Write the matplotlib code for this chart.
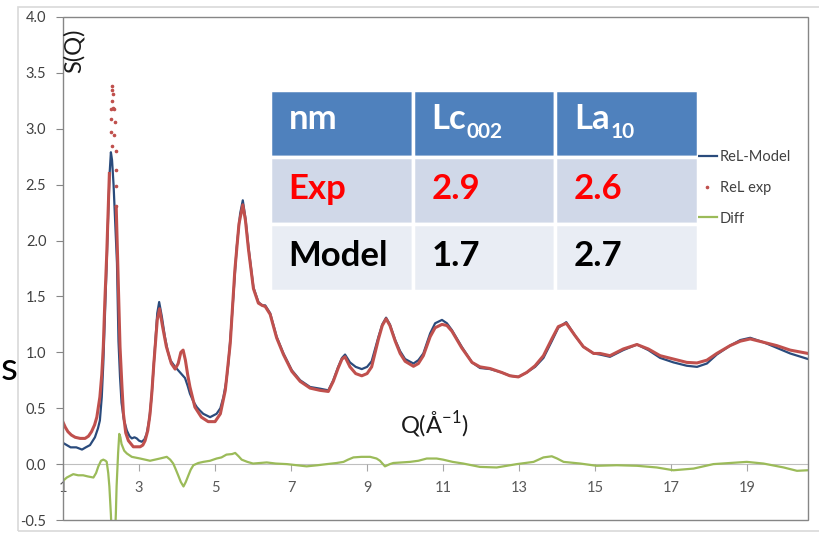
import numpy as np
import matplotlib
matplotlib.use("Agg")
import matplotlib.pyplot as plt
from matplotlib.patches import Rectangle

plt.rcParams['font.family'] = ['Lato', 'DejaVu Sans']
plt.rcParams['mathtext.fontset'] = 'custom'
plt.rcParams['mathtext.rm'] = 'Lato'

# --- data ---
model_q = [1.00, 1.10, 1.20, 1.35, 1.50, 1.60, 1.71, 1.84, 1.92, 1.97, 2.02, 2.06, 2.10, 2.15,
           2.20, 2.23, 2.26, 2.29, 2.33, 2.38, 2.42, 2.46, 2.50, 2.54, 2.60, 2.68, 2.75, 2.81,
           2.88, 2.94, 3.00, 3.07, 3.14, 3.20, 3.27, 3.33, 3.38, 3.42, 3.48, 3.53, 3.60, 3.68,
           3.75, 3.82, 3.95, 4.08, 4.21, 4.28, 4.34, 4.43, 4.52, 4.60, 4.69, 4.87, 5.04, 5.14,
           5.22, 5.30, 5.35, 5.42, 5.48, 5.57, 5.66, 5.73, 5.80, 5.88, 6.01, 6.14, 6.24, 6.32,
           6.45, 6.62, 6.80, 7.02, 7.24, 7.50, 7.76, 7.98, 8.11, 8.24, 8.34, 8.42, 8.55, 8.70,
           8.86, 9.00, 9.12, 9.30, 9.40, 9.50, 9.60, 9.74, 9.87, 10.00, 10.22, 10.35, 10.48,
           10.66, 10.79, 10.97, 11.10, 11.23, 11.49, 11.76, 11.97, 12.24, 12.54, 12.76, 12.98,
           13.20, 13.42, 13.64, 13.86, 14.03, 14.24, 14.47, 14.69, 14.96, 15.13, 15.39, 15.74,
           16.10, 16.40, 16.71, 17.06, 17.41, 17.68, 17.94, 18.20, 18.55, 18.82, 19.08, 19.43,
           19.78, 20.13, 20.60]
model_s = [0.19, 0.17, 0.15, 0.15, 0.13, 0.15, 0.17, 0.24, 0.32, 0.39, 0.60, 0.90, 1.30, 1.80,
           2.35, 2.62, 2.79, 2.72, 2.50, 2.10, 1.80, 1.10, 0.78, 0.55, 0.40, 0.30, 0.25, 0.23,
           0.24, 0.23, 0.21, 0.20, 0.22, 0.27, 0.40, 0.60, 0.85, 1.05, 1.35, 1.45, 1.32, 1.14,
           1.02, 0.93, 0.87, 0.82, 0.77, 0.70, 0.63, 0.56, 0.51, 0.48, 0.45, 0.42, 0.45, 0.50,
           0.60, 0.75, 0.90, 1.20, 1.49, 1.94, 2.24, 2.36, 2.20, 1.94, 1.58, 1.45, 1.42, 1.42,
           1.35, 1.14, 0.99, 0.84, 0.75, 0.69, 0.675, 0.66, 0.75, 0.87, 0.95, 0.98, 0.91, 0.87,
           0.85, 0.87, 0.92, 1.14, 1.25, 1.31, 1.25, 1.11, 1.01, 0.94, 0.90, 0.93, 0.99,
           1.17, 1.26, 1.29, 1.26, 1.20, 1.05, 0.91, 0.86, 0.85, 0.82, 0.79, 0.78,
           0.82, 0.87, 0.95, 1.10, 1.22, 1.27, 1.15, 1.05, 0.99, 0.98, 0.96, 1.02,
           1.07, 1.02, 0.95, 0.91, 0.88, 0.87, 0.90, 0.98, 1.06, 1.11, 1.13, 1.09,
           1.04, 0.99, 0.94]

exp_q = [1.00, 1.06, 1.13, 1.22, 1.32, 1.45, 1.58, 1.67, 1.75, 1.83, 1.89, 1.97, 2.02, 2.06,
         2.10, 2.15, 2.19, 2.22, np.nan, 2.40, 2.44, 2.50, 2.55, 2.59, 2.65, 2.72, 2.85, 3.03,
         3.10, 3.16, 3.23, 3.29, 3.34, 3.39, 3.44, 3.48, 3.54, 3.62, 3.72, 3.85, 3.95, 4.03,
         4.10, 4.16, 4.22, 4.28, 4.34, 4.47, 4.64, 4.82, 5.00, 5.14, 5.27, 5.40, 5.52, 5.63,
         5.73, 5.80, 5.88, 6.01, 6.14, 6.24, 6.32, 6.45, 6.62, 6.80, 7.02, 7.24, 7.50, 7.76,
         7.98, 8.11, 8.24, 8.34, 8.42, 8.55, 8.70, 8.86, 9.00, 9.12, 9.30, 9.40, 9.50, 9.60,
         9.74, 9.87, 10.00, 10.22, 10.35, 10.48, 10.66, 10.79, 10.97, 11.10, 11.23, 11.49,
         11.76, 11.97, 12.24, 12.54, 12.76, 12.98, 13.20, 13.42, 13.64, 13.86, 14.03, 14.24,
         14.47, 14.69, 14.96, 15.13, 15.39, 15.74, 16.10, 16.40, 16.71, 17.06, 17.41, 17.68,
         17.94, 18.20, 18.55, 18.82, 19.08, 19.43, 19.78, 20.13, 20.60]
exp_s = [0.375, 0.33, 0.29, 0.26, 0.24, 0.23, 0.23, 0.25, 0.29, 0.35, 0.42, 0.60, 0.80, 1.05,
         1.45, 1.87, 2.30, 2.60, np.nan, 2.30, 1.79, 1.05, 0.70, 0.45, 0.28, 0.21, 0.155, 0.155,
         0.17, 0.21, 0.30, 0.45, 0.65, 0.90, 1.12, 1.29, 1.39, 1.23, 1.05, 0.90, 0.85, 0.90,
         1.00, 1.02, 0.93, 0.80, 0.69, 0.51, 0.42, 0.38, 0.38, 0.45, 0.66, 1.08, 1.73, 2.15,
         2.32, 2.18, 1.92, 1.57, 1.44, 1.42, 1.41, 1.34, 1.13, 0.98, 0.83, 0.74, 0.68, 0.66,
         0.65, 0.74, 0.86, 0.94, 0.96, 0.87, 0.81, 0.79, 0.81, 0.87, 1.12, 1.24, 1.30, 1.24,
         1.10, 0.99, 0.92, 0.875, 0.90, 0.97, 1.14, 1.22, 1.25, 1.24, 1.19, 1.04,
         0.91, 0.87, 0.855, 0.82, 0.79, 0.78, 0.82, 0.88, 0.97, 1.12, 1.23, 1.26,
         1.15, 1.05, 0.99, 0.99, 0.97, 1.03, 1.07, 1.03, 0.97, 0.94, 0.91, 0.905,
         0.93, 0.99, 1.06, 1.10, 1.12, 1.09, 1.06, 1.02, 0.99]

# sparse exp points at the top of the first peak
peak_q = [2.25, 2.25, 2.26, 2.28, 2.30, 2.30, 2.31, 2.30, 2.32, 2.35, 2.35, 2.37, 2.39, 2.39, 2.39, 2.40]
peak_s = [2.97, 3.09, 3.18, 2.85, 3.25, 3.35, 3.31, 3.38, 3.19, 3.18, 2.94, 3.06, 2.80, 2.63, 2.49, 2.31]

diff_q = [1.00, 1.10, 1.27, 1.40, 1.53, 1.65, 1.80, 1.87, 1.93, 2.00, 2.06, 2.12, 2.15, 2.19,
          2.22, 2.26, 2.30, 2.35, 2.39, 2.41, 2.45, 2.48, 2.51, 2.54, 2.61, 2.68, 2.81, 3.03,
          3.16, 3.29, 3.42, 3.55, 3.73, 3.82, 3.90, 3.97, 4.03, 4.10, 4.17, 4.23, 4.30, 4.36,
          4.43, 4.56, 4.69, 4.87, 5.04, 5.17, 5.30, 5.45, 5.53, 5.62, 5.70, 5.85, 6.00, 6.36,
          6.60, 6.89, 7.15, 7.41, 7.70, 7.94, 8.20, 8.38, 8.50, 8.64, 8.85, 9.08, 9.25, 9.34,
          9.47, 9.60, 9.69, 10.13, 10.35, 10.57, 10.83, 11.00, 11.25, 11.53, 11.97, 12.41,
          12.94, 13.38, 13.64, 13.86, 14.00, 14.17, 14.61, 15.04, 15.57, 16.10, 16.62, 17.06,
          17.59, 18.11, 18.55, 18.99, 19.43, 19.96, 20.31, 20.60]
diff_s = [-0.15, -0.12, -0.09, -0.10, -0.10, -0.11, -0.12, -0.08, -0.02, 0.03, 0.04, 0.03, 0.02, -0.08,
          -0.20, -0.45, -0.80, -0.80, -0.45, -0.20, 0.10, 0.27, 0.24, 0.18, 0.12, 0.095, 0.065, 0.05,
          0.04, 0.03, 0.04, 0.05, 0.065, 0.04, 0.005, -0.05, -0.10, -0.16, -0.20, -0.16, -0.10, -0.05,
          -0.01, 0.01, 0.02, 0.03, 0.05, 0.06, 0.085, 0.09, 0.10, 0.07, 0.04, 0.02, 0.005, 0.015,
          0.005, 0.0, -0.01, -0.02, -0.01, 0.0, 0.01, 0.02, 0.04, 0.06, 0.065, 0.065, 0.05, 0.03,
          -0.02, 0.0, 0.01, 0.02, 0.03, 0.05, 0.05, 0.04, 0.02, 0.005, -0.025, -0.03,
          0.0, 0.02, 0.06, 0.07, 0.05, 0.02, 0.005, -0.015, -0.01, -0.015, -0.03, -0.055,
          -0.04, 0.0, 0.01, 0.02, 0.005, -0.03, -0.06, -0.055]

x_ticks = [1, 3, 5, 7, 9, 11, 13, 15, 17, 19]
y_ticks = [-0.5, 0.0, 0.5, 1.0, 1.5, 2.0, 2.5, 3.0, 3.5, 4.0]

# table contents: (main text, subscript)
table_header = [('nm', ''), ('Lc', '002'), ('La', '10')]
row_names = ['Exp', 'Model']
lc002 = [2.9, 1.7]
la10 = [2.6, 2.7]

W, H = 820, 533


def fx(px):
    return px / W


def fy(py):
    return 1 - py / H


fig = plt.figure(figsize=(W / 100, H / 100), dpi=100)

# outer chart border
fig.add_artist(Rectangle((fx(18), fy(531)), fx(830) - fx(18), (531 - 7) / H,
                         transform=fig.transFigure, fill=False, edgecolor='#D9D9D9', lw=1.2))

ax = fig.add_axes([fx(63), fy(520), (808 - 63) / W, (520 - 17) / H])

model_color = '#2A4B7C'
exp_color = '#C0504D'
diff_color = '#9BBB59'

ln_model, = ax.plot(model_q, model_s, color=model_color, lw=1.6, zorder=3)
ax.plot(exp_q, exp_s, color=exp_color, lw=2.2, zorder=4)
ln_dots, = ax.plot(peak_q, peak_s, ls='none', marker='o', ms=1.6, color=exp_color, zorder=4)
ln_diff, = ax.plot(diff_q, diff_s, color=diff_color, lw=1.6, zorder=5)

ax.set_xlim(1, 20.6)
ax.set_ylim(-0.5, 4.0)
ax.set_xticks(x_ticks)
ax.set_xticklabels([str(t) for t in x_ticks])
ax.set_yticks(y_ticks)
ax.set_yticklabels([f'{t:.1f}' for t in y_ticks])

for side in ['top', 'right', 'left']:
    ax.spines[side].set_visible(False)
ax.spines['bottom'].set_position(('data', 0))
ax.spines['bottom'].set_color('#BFBFBF')
ax.spines['bottom'].set_zorder(1)
ax.add_patch(Rectangle((0, 0), 1, 1, transform=ax.transAxes, fill=False,
                       edgecolor='#868686', lw=1.0, clip_on=False, zorder=6))

ax.tick_params(axis='x', direction='out', length=5, width=0.8, color='#A6A6A6',
               labelcolor='#595959', labelsize=10.5, pad=7)
ax.tick_params(axis='y', direction='out', length=5, width=0.8, color='#868686',
               labelcolor='#404040', labelsize=10.5, pad=7)

leg = ax.legend([ln_model, ln_dots, ln_diff], ['ReL-Model', 'ReL exp', 'Diff'],
                loc='upper left', bbox_to_anchor=(fx(698), fy(150)),
                bbox_transform=fig.transFigure, frameon=False, fontsize=10.5,
                handlelength=1.3, handletextpad=0.2, labelspacing=1.15,
                borderpad=0, borderaxespad=0, numpoints=1, markerscale=1.0)
for t in leg.get_texts():
    t.set_color('#404040')

# axis titles inside the plot
fig.text(fx(74), fy(51), 'S(Q)', rotation=90, fontsize=17, ha='center', va='center', color='#1A1A1A')
fig.text(fx(434), fy(425), r'Q(Å$^{\mathregular{-1}}$)', fontsize=17, ha='center', va='center',
         color='#1A1A1A')

# letter at the left edge of the slide
fig.text(fx(1), fy(369), 's', fontsize=28, ha='left', va='center', color='black')

# table
tax = fig.add_axes([fx(270), fy(291), (698 - 270) / W, (291 - 90) / H])
tax.set_xlim(0, 3)
tax.set_ylim(3, 0)
tax.axis('off')
row_colors = ['#4F81BD', '#D0D8E8', '#E9EDF4']
for r in range(3):
    for c in range(3):
        tax.add_patch(Rectangle((c, r), 1, 1, facecolor=row_colors[r], edgecolor='white', lw=2.5))

renderer = fig.canvas.get_renderer()
txt_kw = dict(fontsize=25, fontweight='bold', ha='left', va='baseline')
for c, (label, sub) in enumerate(table_header):
    t = tax.text(c + 0.13, 0.58, label, color='white', **txt_kw)
    if sub:
        bb = t.get_window_extent(renderer)
        base = tax.transData.transform((0, 0.58))[1]
        sx, sy = fig.transFigure.inverted().transform((bb.x1 + 1, base - 9))
        fig.text(sx, sy, sub, color='white', fontsize=15, fontweight='bold',
                 ha='left', va='baseline')
text_colors = ['#FF0000', 'black']
for i, name in enumerate(row_names):
    r = i + 1
    tax.text(0.13, r + 0.62, name, color=text_colors[i], **txt_kw)
    tax.text(1.13, r + 0.62, f'{lc002[i]:.1f}', color=text_colors[i], **txt_kw)
    tax.text(2.13, r + 0.62, f'{la10[i]:.1f}', color=text_colors[i], **txt_kw)

fig.savefig('out.png', dpi=100)
